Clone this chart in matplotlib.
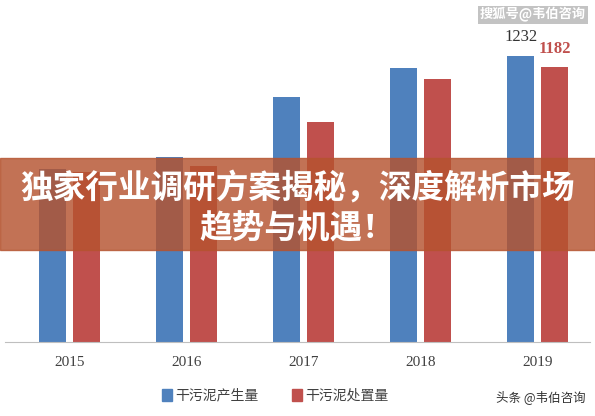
import matplotlib
matplotlib.use("Agg")
import matplotlib.pyplot as plt
import numpy as np

plt.rcParams['font.family'] = ['Noto Sans CJK SC', 'DejaVu Sans']

years = ["2015", "2016", "2017", "2018", "2019"]
produced = [745, 797, 1052, 1177, 1232]
disposed = [730, 759, 948, 1129, 1182]

fig = plt.figure(figsize=(5.95, 4.16), dpi=100)
ax = fig.add_axes([0.008, 0.178, 0.984, 0.76])
x = np.arange(len(years))
w = 0.23
ax.bar(x - 0.145, produced, w, color="#4f81bd")
ax.bar(x + 0.145, disposed, w, color="#c0504d")
ax.set_xlim(-0.55, 4.45)
ax.set_ylim(0, 1360)
for s in ["top", "right", "left"]:
    ax.spines[s].set_visible(False)
ax.spines["bottom"].set_color("#bfbfbf")
ax.set_yticks([])
ax.set_xticks(x)
ax.set_xticklabels(years, family="Liberation Serif", fontsize=11, color="#404040")
ax.tick_params(axis="x", length=0, pad=10)
ax.text(x[-1] - 0.145, produced[-1] + 45, str(produced[-1]), ha="center", va="bottom",
        family="Liberation Serif", fontsize=12, color="#333333")
ax.text(x[-1] + 0.145, disposed[-1] + 45, str(disposed[-1]), ha="center", va="bottom",
        family="Liberation Serif", fontsize=12, fontweight="bold", color="#c0504d")

# legend
fig.patches.append(plt.Rectangle((0.272, 0.035), 0.017, 0.03, transform=fig.transFigure, color="#4f81bd"))
fig.text(0.295, 0.05, "干污泥产生量", fontsize=10, va="center", color="#404040")
fig.patches.append(plt.Rectangle((0.49, 0.035), 0.017, 0.03, transform=fig.transFigure, color="#c0504d"))
fig.text(0.513, 0.05, "干污泥处置量", fontsize=10, va="center", color="#404040")

# banner overlay
fig.patches.append(plt.Rectangle((0, 0.40), 1, 0.22, transform=fig.transFigure,
                                 color="#b5532f", alpha=0.82, zorder=5))
fig.text(0.5, 0.545, "独家行业调研方案揭秘，深度解析市场", ha="center", va="center",
         fontsize=23.5, fontweight="bold", color="white", zorder=6)
fig.text(0.5, 0.45, "趋势与机遇！", ha="center", va="center",
         fontsize=23.5, fontweight="bold", color="white", zorder=6)

fig.text(0.985, 0.965, "搜狐号@韦伯咨询", ha="right", va="center", fontsize=9.5,
         fontweight="bold", color="white",
         bbox=dict(facecolor="#888888", alpha=0.5, edgecolor="none", pad=1))
fig.text(0.985, 0.045, "头条 @韦伯咨询", ha="right", va="center", fontsize=9, color="#333333")

fig.savefig("out.png", dpi=100)
